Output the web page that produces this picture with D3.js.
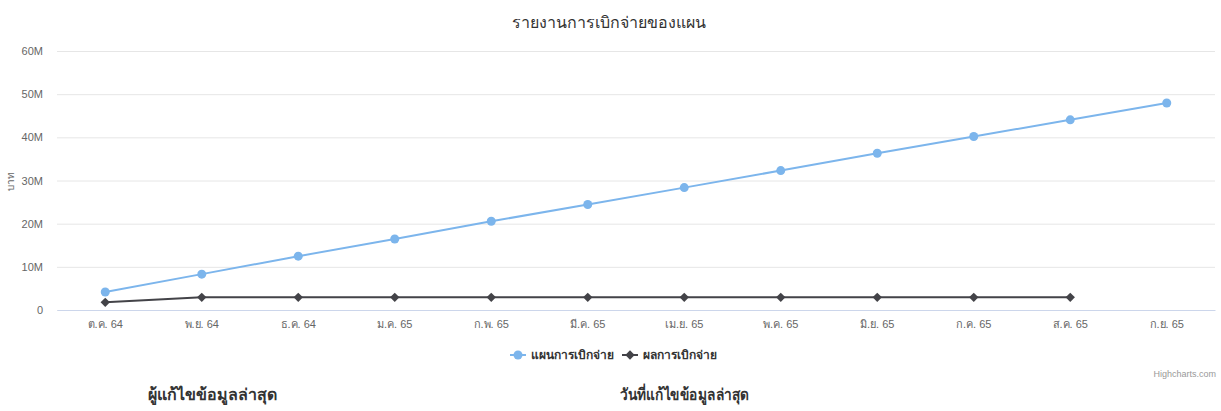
<!DOCTYPE html>
<html>
<head>
<meta charset="utf-8">
<script src="https://cdn.jsdelivr.net/npm/d3@7/dist/d3.min.js"></script>
<style>
  html, body { margin: 0; padding: 0; background: #fff; }
  svg { display: block; font-family: "Lucida Grande", "Lucida Sans Unicode", Arial, Helvetica, sans-serif; }
</style>
</head>
<body>
<svg id="chart" width="1221" height="411"></svg>
<script>
const categories = ["ต.ค. 64","พ.ย. 64","ธ.ค. 64","ม.ค. 65","ก.พ. 65","มี.ค. 65","เม.ย. 65","พ.ค. 65","มิ.ย. 65","ก.ค. 65","ส.ค. 65","ก.ย. 65"];
const planValues = [4.16e6, 8.31e6, 12.47e6, 16.45e6, 20.55e6, 24.45e6, 28.35e6, 32.3e6, 36.3e6, 40.2e6, 44.05e6, 47.95e6];
const actualValues = [1.78e6, 2.93e6, 2.93e6, 2.93e6, 2.93e6, 2.93e6, 2.93e6, 2.93e6, 2.93e6, 2.93e6, 2.93e6];
const yTicks = [0, 10e6, 20e6, 30e6, 40e6, 50e6, 60e6];
const seriesNames = ["แผนการเบิกจ่าย", "ผลการเบิกจ่าย"];
const titleText = "รายงานการเบิกจ่ายของแผน";
const yTitle = "บาท";
const footerLeft = "ผู้แก้ไขข้อมูลล่าสุด";
const footerRight = "วันที่แก้ไขข้อมูลล่าสุด";
const credit = "Highcharts.com";

const svg = d3.select("#chart");
const plot = { left: 57, right: 1215, top: 51, bottom: 310 };

const x = d3.scaleBand().domain(categories).range([plot.left, plot.right]).padding(0);
const y = d3.scaleLinear().domain([0, 60e6]).range([plot.bottom, plot.top]);
const cx = d => x(d) + x.bandwidth() / 2;

// title
svg.append("text").attr("x", 609).attr("y", 28).attr("text-anchor", "middle")
  .attr("fill", "#333333").style("font-size", "16px").text(titleText);

// grid
const yAxis = d3.axisLeft(y).tickValues(yTicks)
  .tickSize(-(plot.right - plot.left)).tickPadding(14)
  .tickFormat(d => d === 0 ? "0" : (d / 1e6) + "M");
const gy = svg.append("g").attr("transform", `translate(${plot.left},0)`).call(yAxis);
gy.select(".domain").remove();
gy.selectAll(".tick line").attr("stroke", "#e6e6e6");
gy.selectAll(".tick text").attr("fill", "#666666").style("font-size", "11px").attr("dy", "0.32em");

// y title
svg.append("text").attr("transform", `translate(14,181) rotate(-90)`)
  .attr("text-anchor", "middle").attr("fill", "#666666").style("font-size", "10px").text(yTitle);

// x axis
const xAxis = d3.axisBottom(x).tickSize(0).tickPadding(10);
const gx = svg.append("g").attr("transform", `translate(0,${plot.bottom})`).call(xAxis);
gx.select(".domain").attr("stroke", "#ccd6eb");
gx.selectAll(".tick text").attr("fill", "#666666").style("font-size", "11px");

// lines
const line = d3.line().x((d, i) => cx(categories[i])).y(d => y(d));
svg.append("path").datum(planValues).attr("d", line)
  .attr("fill", "none").attr("stroke", "#7cb5ec").attr("stroke-width", 2);
svg.append("path").datum(actualValues).attr("d", line)
  .attr("fill", "none").attr("stroke", "#434348").attr("stroke-width", 2);

svg.append("g").selectAll("circle").data(planValues).join("circle")
  .attr("cx", (d, i) => cx(categories[i])).attr("cy", d => y(d)).attr("r", 4.5)
  .attr("fill", "#7cb5ec");

const diamond = d3.symbol().type(d3.symbolDiamond2).size(56);
svg.append("g").selectAll("path").data(actualValues).join("path")
  .attr("d", diamond)
  .attr("transform", (d, i) => `translate(${cx(categories[i])},${y(d)})`)
  .attr("fill", "#434348");

// legend
const legend = svg.append("g");
const legendItems = [
  { name: seriesNames[0], color: "#7cb5ec", sx: 510 },
  { name: seriesNames[1], color: "#434348", sx: 622 }
];
legendItems.forEach((it, i) => {
  const g = legend.append("g").attr("transform", `translate(${it.sx},355)`);
  g.append("line").attr("x1", 0).attr("x2", 16).attr("y1", 0).attr("y2", 0)
    .attr("stroke", it.color).attr("stroke-width", 2);
  if (i === 0) g.append("circle").attr("cx", 8).attr("cy", 0).attr("r", 4.5).attr("fill", it.color);
  else g.append("path").attr("d", diamond).attr("transform", "translate(8,0)").attr("fill", it.color);
  g.append("text").attr("x", 21).attr("y", 0).attr("dy", "0.35em")
    .attr("fill", "#333333").style("font-size", "12px").style("font-weight", "bold").text(it.name);
});

// credit
svg.append("text").attr("x", 1216).attr("y", 377).attr("text-anchor", "end")
  .attr("fill", "#999999").style("font-size", "9px").text(credit);

// footer labels
svg.append("text").attr("x", 148).attr("y", 400).attr("fill", "#333333")
  .style("font-size", "16px").style("font-weight", "bold").text(footerLeft);
svg.append("text").attr("x", 620).attr("y", 400).attr("fill", "#333333")
  .attr("textLength", 129).attr("lengthAdjust", "spacingAndGlyphs")
  .style("font-size", "16px").style("font-weight", "bold").text(footerRight);
</script>
</body>
</html>
